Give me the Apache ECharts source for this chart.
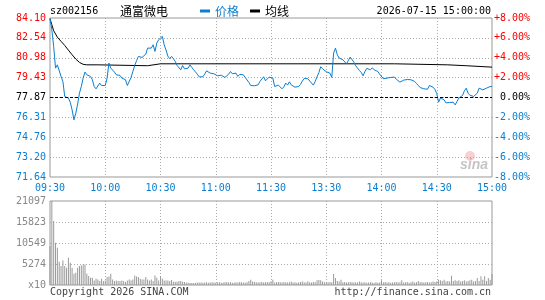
<!DOCTYPE html>
<html>
<head>
<meta charset="utf-8">
<script src="https://cdn.jsdelivr.net/npm/echarts@6/dist/echarts.min.js"></script>
<style>
    html, body { margin: 0; padding: 0; background: #fff; }
    #chart-container { width: 545px; height: 300px; }
</style>
</head>
<body>
<div id="chart-container"></div>
<script>
// minute chart for sz002156, 09:30 -> 11:30 then 13:01 -> 15:00 (241 minutes)
const PREV_CLOSE = 77.87;

const timeLabels = ['09:30', '10:00', '10:30', '11:00', '11:30', '13:30', '14:00', '14:30', '15:00'];
const priceTicks = ['71.64', '73.20', '74.76', '76.31', '77.87', '79.43', '80.98', '82.54', '84.10'];
const pctTicks = ['-8.00%', '-6.00%', '-4.00%', '-2.00%', '0.00%', '+2.00%', '+4.00%', '+6.00%', '+8.00%'];
const volTicks = ['x10', '5274', '10549', '15823', '21097'];

const price = [
    84.05, 83.18, 81.87, 80.17, 80.43, 80.57, 79.52, 79.13, 77.95, 77.95,
    77.82, 77.50, 76.90, 76.12, 76.64, 77.35, 78.21, 78.73, 79.39, 79.86,
    79.65, 79.78, 79.52, 79.26, 78.73, 78.55, 78.60, 79.00, 78.81, 78.92,
    78.81, 79.39, 80.57, 80.17, 80.12, 79.86, 79.65, 79.52, 79.60, 79.39,
    79.49, 79.26, 78.81, 78.86, 79.44, 79.91, 80.38, 80.75, 81.09, 81.22,
    81.01, 80.96, 81.27, 81.74, 81.87, 81.74, 82.00, 81.48, 82.14, 82.40,
    82.27, 82.66, 82.00, 81.59, 81.11, 80.91, 81.09, 80.91, 80.70, 80.38,
    80.30, 80.04, 80.38, 80.12, 80.09, 80.17, 80.43, 80.23, 80.04, 79.99,
    79.70, 79.49, 79.52, 79.49, 79.70, 79.96, 79.86, 79.78, 79.78, 79.73,
    79.75, 79.57, 79.52, 79.62, 79.52, 79.44, 79.52, 79.70, 79.91, 79.73,
    79.62, 79.78, 79.52, 79.68, 79.75, 79.65, 79.44, 79.34, 79.05, 78.81,
    78.86, 78.79, 78.94, 78.86, 79.13, 79.26, 79.49, 79.18, 79.26, 79.47,
    79.52, 79.39, 78.73, 78.86, 78.84, 78.76, 78.55, 78.71, 79.00, 78.84,
    79.10, 78.86, 78.79, 78.68, 78.65, 78.73, 78.89, 79.15, 79.36, 79.31,
    79.34, 79.41, 79.00, 78.84, 79.13, 79.49, 79.83, 80.28, 80.12, 79.99,
    79.89, 79.86, 79.78, 79.44, 81.35, 81.74, 81.22, 80.96, 81.06, 80.83,
    80.70, 80.51, 80.62, 81.04, 80.96, 80.64, 80.36, 80.17, 79.99, 79.83,
    79.57, 79.91, 80.15, 80.12, 80.04, 80.20, 80.04, 79.94, 79.91, 79.70,
    79.60, 79.34, 79.20, 79.39, 79.44, 79.44, 79.47, 79.47, 79.31, 79.18,
    79.07, 79.07, 79.23, 79.15, 79.28, 79.31, 79.26, 79.31, 79.13, 78.97,
    78.81, 78.65, 78.68, 78.55, 78.52, 78.52, 78.81, 78.79, 78.68, 78.50,
    78.18, 77.50, 77.82, 77.87, 77.69, 77.45, 77.35, 77.48, 77.45, 77.50,
    77.29, 77.56, 77.82, 77.95, 78.03, 78.39, 78.60, 78.21, 78.05, 77.95,
    77.95, 78.00, 78.21, 78.60, 78.73, 78.47, 78.39, 78.60, 78.73, 78.73, 78.73
];

// average price line, read at its turning points (minute index, price)
const avgMinutes = [0, 1, 2, 3, 4, 6, 8, 10, 12, 14, 16, 18, 20, 26, 27, 53, 54, 60, 187, 188, 216, 217, 226, 227, 240];
const avgValues = [84.05, 83.57, 83.10, 82.85, 82.60, 82.27, 81.95, 81.58, 81.22, 80.88, 80.62, 80.47, 80.43, 80.43, 80.36, 80.36, 80.43, 80.51, 80.51, 80.43, 80.43, 80.36, 80.36, 80.25, 80.25];

const volume = [
    9797, 21097, 16077, 10626, 9370, 5853, 4773, 6180, 4773, 4346,
    6858, 5602, 4346, 2839, 3090, 4346, 4773, 4900, 5175, 5175,
    2839, 2261, 1834, 1834, 1156, 1583, 1407, 1005, 1583, 1005,
    1156, 2010, 2160, 2839, 1407, 1005, 1156, 1005, 1005, 1156,
    1005, 754, 1156, 1407, 1156, 1407, 2412, 2160, 2010, 1583,
    1407, 1407, 2010, 1407, 1156, 1407, 1005, 2412, 1834, 1156,
    2160, 1583, 1156, 1156, 1156, 1005, 1250, 800, 800, 800,
    1005, 1005, 800, 754, 653, 550, 502, 502, 502, 502,
    653, 650, 600, 550, 600, 670, 550, 600, 670, 600,
    550, 600, 670, 550, 600, 670, 750, 600, 670, 550,
    600, 670, 600, 750, 670, 600, 550, 670, 1000, 1340,
    900, 750, 670, 600, 670, 750, 600, 670, 750, 670,
    900, 1340, 600, 670, 750, 670, 600, 750, 670, 600,
    670, 900, 600, 670, 550, 600, 750, 900, 670, 600,
    920, 670, 600, 750, 670, 1170, 1250, 1170, 900, 670,
    600, 670, 750, 670, 2760, 1760, 1000, 900, 1340, 670,
    750, 600, 670, 750, 670, 600, 670, 600, 900, 670,
    600, 670, 550, 600, 670, 600, 500, 670, 550, 600,
    1170, 670, 750, 600, 670, 550, 600, 670, 750, 600,
    670, 1170, 600, 670, 750, 550, 670, 900, 600, 670,
    1000, 670, 750, 600, 670, 750, 600, 670, 900, 750,
    900, 1340, 1170, 1000, 1340, 900, 1000, 900, 2300, 1000,
    1170, 1000, 1170, 900, 1000, 1170, 900, 1000, 1170, 1340,
    900, 1000, 1760, 1000, 2176, 1340, 2176, 1000, 1760, 1340, 2760
];

const MONO = '"DejaVu Sans Mono", "Liberation Mono", monospace';
const CJK = '"Noto Sans CJK SC", sans-serif';
const BLUE = '#0a7ecf';
const RED = '#ff0000';
const DOTTED = {color: '#aaa', type: [1, 2], width: 1};

function labelColor(v) {
    v = Number(v);
    if (v > 0) return RED;
    if (v < 0) return BLUE;
    return '#000';
}

const chartDom = document.getElementById('chart-container');
const myChart = echarts.init(chartDom, null, {width: 545, height: 300});

const option = {
    animation: false,
    backgroundColor: '#fff',
    grid: [
        {left: 50, top: 18, width: 442, height: 159, show: true, borderColor: '#999', borderWidth: 1},
        {left: 50, top: 201, width: 442, height: 84, show: true, borderColor: '#999', borderWidth: 1}
    ],
    legend: {
        left: 200,
        top: 5,
        padding: 0,
        itemWidth: 10,
        itemHeight: 3,
        itemGap: 11,
        icon: 'rect',
        textStyle: {fontSize: 12, fontFamily: CJK},
        data: [
            {name: '价格', textStyle: {color: BLUE}},
            {name: '均线', textStyle: {color: '#000'}}
        ]
    },
    xAxis: [
        {
            gridIndex: 0, type: 'value', min: 0, max: 240, interval: 30,
            axisLine: {show: false}, axisTick: {show: false},
            axisLabel: {
                margin: 6, color: BLUE, fontFamily: MONO, fontSize: 10,
                formatter: function (v) { return timeLabels[Math.round(v / 30)]; }
            },
            splitLine: {show: true, lineStyle: DOTTED, showMinLine: false, showMaxLine: false}
        },
        {
            gridIndex: 1, type: 'value', min: 0, max: 240, interval: 30,
            axisLine: {show: false}, axisTick: {show: false}, axisLabel: {show: false},
            splitLine: {show: true, lineStyle: DOTTED, showMinLine: false, showMaxLine: false}
        }
    ],
    yAxis: [
        // price scale used by the series
        {gridIndex: 0, type: 'value', min: 71.64, max: 84.10, show: false},
        // left labels (price) on the same 8 rows
        {
            gridIndex: 0, type: 'value', position: 'left', min: -8, max: 8, interval: 2,
            axisLine: {show: false}, axisTick: {show: false},
            axisLabel: {
                margin: 4, fontFamily: MONO, fontSize: 10, color: labelColor,
                formatter: function (v) { return priceTicks[Math.round((v + 8) / 2)]; }
            },
            splitLine: {show: true, lineStyle: DOTTED, showMinLine: false, showMaxLine: false}
        },
        // right labels (change %)
        {
            gridIndex: 0, type: 'value', position: 'right', min: -8, max: 8, interval: 2,
            axisLine: {show: false}, axisTick: {show: false}, splitLine: {show: false},
            axisLabel: {
                margin: 38, align: 'right', fontFamily: MONO, fontSize: 10, color: labelColor,
                formatter: function (v) { return pctTicks[Math.round((v + 8) / 2)]; }
            }
        },
        // volume
        {
            gridIndex: 1, type: 'value', min: 0, max: 21097, interval: 5274.25,
            axisLine: {show: false}, axisTick: {show: false},
            axisLabel: {
                margin: 4, fontFamily: MONO, fontSize: 10, color: '#888',
                formatter: function (v) { return volTicks[Math.round(v / 5274.25)]; }
            },
            splitLine: {show: true, lineStyle: DOTTED, showMinLine: false, showMaxLine: false}
        }
    ],
    series: [
        {
            name: '价格', type: 'line', xAxisIndex: 0, yAxisIndex: 0,
            data: price.map((v, i) => [i, v]),
            symbol: 'none', z: 4,
            lineStyle: {width: 1, color: BLUE}, itemStyle: {color: BLUE},
            markLine: {
                silent: true, symbol: 'none', label: {show: false},
                lineStyle: {color: '#000', type: [3, 2], width: 1},
                data: [{yAxis: PREV_CLOSE}]
            }
        },
        {
            name: '均线', type: 'line', xAxisIndex: 0, yAxisIndex: 0,
            data: avgMinutes.map((m, i) => [m, avgValues[i]]),
            symbol: 'none', z: 3,
            lineStyle: {width: 1, color: '#000'}, itemStyle: {color: '#000'}
        },
        {
            name: '成交量', type: 'bar', xAxisIndex: 1, yAxisIndex: 3,
            data: volume.map((v, i) => [i, v]),
            barWidth: 1,
            itemStyle: {color: '#999'}
        }
    ],
    graphic: [
        {type: 'text', x: 50, y: 11, style: {text: 'sz002156', font: '10px ' + MONO, fill: '#000', verticalAlign: 'middle'}},
        {type: 'text', x: 120, y: 11, style: {text: '通富微电', font: '12px ' + CJK, fill: '#000', verticalAlign: 'middle'}},
        {type: 'text', x: 491, y: 11, style: {text: '2026-07-15 15:00:00', font: '10px ' + MONO, fill: '#000', align: 'right', verticalAlign: 'middle'}},
        {type: 'text', x: 50, y: 292, style: {text: 'Copyright 2026 SINA.COM', font: '10px ' + MONO, fill: '#444', verticalAlign: 'middle'}},
        {type: 'text', x: 491, y: 292, style: {text: 'http://finance.sina.com.cn', font: '10px ' + MONO, fill: '#444', align: 'right', verticalAlign: 'middle'}},
        // faint sina watermark
        {type: 'circle', shape: {cx: 470, cy: 156, r: 5}, style: {fill: 'rgba(235,120,120,0.35)'}, z: 1},
        {type: 'text', x: 474, y: 165, z: 1, style: {text: 'sina', font: 'italic bold 14px "Liberation Sans", sans-serif', fill: 'rgba(140,140,140,0.5)', align: 'center', verticalAlign: 'middle'}}
    ]
};

myChart.setOption(option, true);
</script>
</body>
</html>
